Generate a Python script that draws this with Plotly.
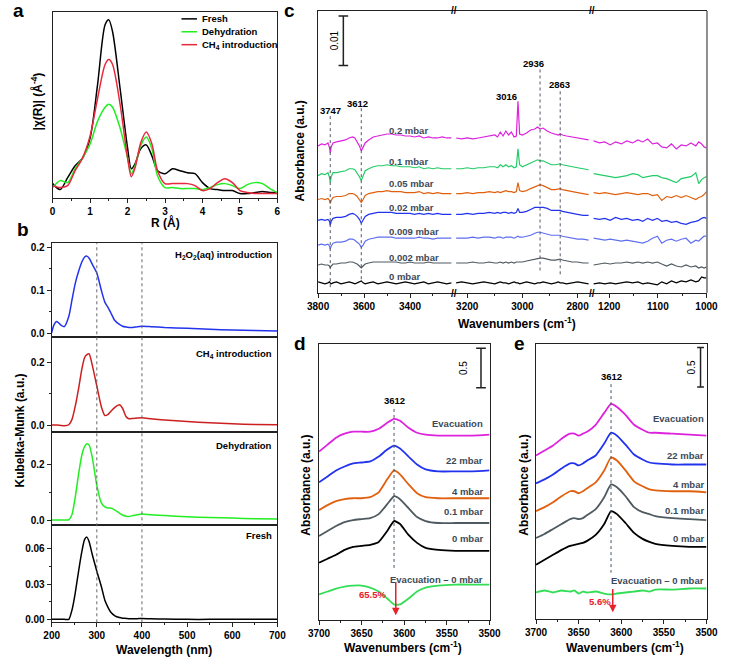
import plotly.graph_objects as go

W, H = 734, 664
def fx(px): return px / W
def fy(py): return 1 - py / H

FONT = "Liberation Sans, Arial, sans-serif"

# ---------------- Panel a : EXAFS ----------------
r_a = [0, 0.2, 0.4, 0.6, 0.8, 1.0, 1.2, 1.4, 1.5, 1.6, 1.8, 2.0, 2.1, 2.2, 2.35, 2.5, 2.65, 2.8, 3.0,
       3.2, 3.4, 3.6, 3.8, 4.0, 4.2, 4.4, 4.6, 4.8, 5.0, 5.2, 5.4, 5.6, 5.8, 6.0]
chi_fresh = [1.12, 0.64, 1.60, 2.56, 3.20, 4.80, 9.12, 13.92, 14.32, 13.36, 8.80, 4.00, 2.32, 2.72, 3.92, 4.24,
             3.36, 2.16, 1.92, 2.32, 2.16, 2.00, 1.92, 1.20, 0.72, 0.64, 0.56, 0.56, 0.32, 0.32, 0.40, 0.48, 0.40, 0.40]
chi_dehyd = [0.80, 1.36, 1.20, 2.32, 3.20, 4.32, 6.16, 7.28, 7.52, 7.28, 5.60, 3.20, 1.92, 2.56, 4.16, 4.88,
             3.92, 1.76, 0.80, 0.80, 0.72, 0.72, 0.72, 0.64, 0.80, 1.04, 1.12, 0.96, 0.72, 1.04, 1.20, 1.12, 0.72, 0.40]
chi_ch4 = [0.96, 0.80, 0.96, 2.16, 3.20, 4.96, 8.00, 10.72, 11.12, 10.72, 7.52, 3.20, 1.68, 2.40, 4.40, 5.28,
           4.32, 2.16, 1.12, 1.12, 1.12, 1.12, 0.96, 0.56, 0.72, 1.20, 1.52, 1.20, 0.56, 0.40, 0.32, 0.32, 0.32, 0.32]
legend_a = ["Fresh", "Dehydration", "CH<sub>4</sub> introduction"]

# ---------------- Panel b : UV-vis ----------------
wl_b = [200, 205, 211, 220, 228, 238, 245, 252, 260, 267, 273, 278, 283, 290, 300, 310, 318, 325, 331, 340,
        350, 357, 365, 371, 380, 390, 400, 420, 450, 500, 550, 600, 650, 700]
km_h2o2 = [0.002, 0.020, 0.028, 0.020, 0.016, 0.040, 0.078, 0.115, 0.145, 0.166, 0.177, 0.179, 0.174, 0.160,
           0.140, 0.100, 0.072, 0.060, 0.048, 0.030, 0.021, 0.017, 0.015, 0.014, 0.014, 0.016, 0.017, 0.016,
           0.014, 0.012, 0.010, 0.008, 0.007, 0.006]
km_ch4 = [0.002, 0.002, 0.002, 0.001, 0.000, 0.003, 0.020, 0.060, 0.120, 0.180, 0.215, 0.224, 0.226, 0.190,
          0.125, 0.060, 0.032, 0.036, 0.045, 0.058, 0.066, 0.055, 0.028, 0.022, 0.023, 0.024, 0.025, 0.022,
          0.018, 0.013, 0.009, 0.006, 0.004, 0.003]
km_dehyd = [0.000, 0.000, 0.000, 0.000, 0.000, 0.001, 0.020, 0.080, 0.170, 0.235, 0.265, 0.275, 0.270, 0.225,
            0.125, 0.062, 0.047, 0.043, 0.043, 0.036, 0.025, 0.018, 0.014, 0.013, 0.016, 0.019, 0.022, 0.019,
            0.016, 0.012, 0.009, 0.007, 0.005, 0.004]
km_fresh = [0.000, 0.000, 0.000, 0.000, 0.000, 0.000, 0.008, 0.022, 0.042, 0.058, 0.068, 0.070, 0.066, 0.055,
            0.041, 0.028, 0.016, 0.010, 0.006, 0.003, 0.0015, 0.001, 0.0008, 0.0006, 0.0005, 0.0006, 0.0007,
            0.0005, 0.0003, 0.0, 0.0, 0.0, 0.0, 0.0]
labels_b = ["H<sub>2</sub>O<sub>2</sub>(aq) introduction", "CH<sub>4</sub> introduction", "Dehydration", "Fresh"]

# ---------------- Panel c : IR, CH4 dosing ----------------
wn_c1 = [3800, 3785, 3770, 3757, 3750, 3747, 3743, 3735, 3720, 3700, 3680, 3665, 3650, 3640, 3630, 3620, 3612,
         3604, 3595, 3580, 3560, 3540, 3520, 3500, 3480, 3460, 3440, 3420, 3400, 3380, 3360, 3340, 3320, 3300,
         3280, 3260, 3240, 3220]
wn_c2 = [3240, 3220, 3200, 3180, 3160, 3140, 3120, 3100, 3090, 3080, 3070, 3060, 3050, 3040, 3030, 3022, 3016,
         3010, 3000, 2985, 2970, 2955, 2945, 2936, 2925, 2910, 2895, 2880, 2870, 2863, 2855, 2840, 2820, 2800,
         2780, 2760]
wn_c3 = [1232, 1220, 1209, 1198, 1187, 1175, 1164, 1152, 1141, 1131, 1121, 1111, 1101, 1092, 1082, 1072, 1062,
         1052, 1042, 1032, 1022, 1016, 1010, 1005, 1000]

c_02_s1 = [0.0276, 0.0280, 0.0278, 0.0282, 0.0272, 0.0262, 0.0274, 0.0282, 0.0284, 0.0286, 0.0288, 0.0292,
           0.0294, 0.0292, 0.0284, 0.0276, 0.0266, 0.0274, 0.0282, 0.0288, 0.0294, 0.0296, 0.0298, 0.0300,
           0.0300, 0.0298, 0.0298, 0.0296, 0.0296, 0.0294, 0.0296, 0.0292, 0.0294, 0.0292, 0.0292, 0.0294,
           0.0292, 0.0292]
c_02_s2 = [0.0292, 0.0290, 0.0292, 0.0290, 0.0292, 0.0294, 0.0296, 0.0298, 0.0294, 0.0304, 0.0296, 0.0306,
           0.0298, 0.0304, 0.0294, 0.0296, 0.0366, 0.0300, 0.0298, 0.0302, 0.0308, 0.0310, 0.0314, 0.0310,
           0.0312, 0.0306, 0.0302, 0.0300, 0.0298, 0.0300, 0.0298, 0.0296, 0.0294, 0.0292, 0.0290, 0.0288]
c_02_s3 = [0.0286, 0.0282, 0.0284, 0.0278, 0.0284, 0.0280, 0.0286, 0.0282, 0.0288, 0.0284, 0.0290, 0.0280,
           0.0282, 0.0274, 0.0272, 0.0280, 0.0270, 0.0278, 0.0276, 0.0282, 0.0276, 0.0284, 0.0280, 0.0274, 0.0272]

c_01_s1 = [0.0216, 0.0220, 0.0218, 0.0222, 0.0212, 0.0202, 0.0214, 0.0222, 0.0222, 0.0224, 0.0226, 0.0230,
           0.0230, 0.0228, 0.0222, 0.0214, 0.0206, 0.0216, 0.0226, 0.0230, 0.0234, 0.0236, 0.0236, 0.0238,
           0.0236, 0.0236, 0.0234, 0.0234, 0.0234, 0.0232, 0.0234, 0.0230, 0.0232, 0.0230, 0.0232, 0.0230,
           0.0230, 0.0230]
c_01_s2 = [0.0230, 0.0230, 0.0232, 0.0230, 0.0232, 0.0232, 0.0234, 0.0234, 0.0232, 0.0238, 0.0234, 0.0238,
           0.0234, 0.0236, 0.0232, 0.0234, 0.0270, 0.0238, 0.0234, 0.0238, 0.0242, 0.0246, 0.0248, 0.0246,
           0.0246, 0.0242, 0.0238, 0.0238, 0.0240, 0.0240, 0.0238, 0.0236, 0.0234, 0.0232, 0.0230, 0.0228]
c_01_s3 = [0.0220, 0.0218, 0.0216, 0.0214, 0.0212, 0.0214, 0.0216, 0.0220, 0.0218, 0.0212, 0.0214, 0.0216,
           0.0216, 0.0212, 0.0210, 0.0206, 0.0202, 0.0210, 0.0212, 0.0214, 0.0222, 0.0200, 0.0208, 0.0212, 0.0214]

c_005_s1 = [0.0168, 0.0170, 0.0168, 0.0170, 0.0166, 0.0160, 0.0166, 0.0172, 0.0174, 0.0174, 0.0176, 0.0180,
            0.0180, 0.0178, 0.0174, 0.0168, 0.0162, 0.0168, 0.0176, 0.0180, 0.0182, 0.0184, 0.0184, 0.0186,
            0.0184, 0.0184, 0.0184, 0.0182, 0.0182, 0.0182, 0.0184, 0.0180, 0.0182, 0.0180, 0.0182, 0.0180,
            0.0180, 0.0180]
c_005_s2 = [0.0180, 0.0180, 0.0182, 0.0180, 0.0182, 0.0182, 0.0184, 0.0182, 0.0184, 0.0182, 0.0184, 0.0186,
            0.0184, 0.0184, 0.0182, 0.0184, 0.0202, 0.0186, 0.0184, 0.0186, 0.0190, 0.0194, 0.0196, 0.0198,
            0.0196, 0.0192, 0.0188, 0.0188, 0.0190, 0.0190, 0.0188, 0.0186, 0.0184, 0.0182, 0.0180, 0.0178]
c_005_s3 = [0.0182, 0.0180, 0.0182, 0.0180, 0.0178, 0.0180, 0.0182, 0.0180, 0.0178, 0.0180, 0.0180, 0.0176,
            0.0178, 0.0166, 0.0174, 0.0172, 0.0176, 0.0172, 0.0176, 0.0172, 0.0168, 0.0172, 0.0174, 0.0178, 0.0184]

c_002_s1 = [0.0126, 0.0128, 0.0126, 0.0128, 0.0124, 0.0116, 0.0124, 0.0130, 0.0132, 0.0132, 0.0134, 0.0138,
            0.0140, 0.0138, 0.0134, 0.0128, 0.0120, 0.0126, 0.0134, 0.0138, 0.0140, 0.0142, 0.0142, 0.0142,
            0.0142, 0.0140, 0.0140, 0.0140, 0.0140, 0.0138, 0.0140, 0.0138, 0.0140, 0.0138, 0.0140, 0.0138,
            0.0138, 0.0138]
c_002_s2 = [0.0138, 0.0138, 0.0140, 0.0138, 0.0140, 0.0140, 0.0142, 0.0140, 0.0142, 0.0140, 0.0142, 0.0142,
            0.0140, 0.0142, 0.0140, 0.0142, 0.0150, 0.0142, 0.0142, 0.0144, 0.0148, 0.0152, 0.0152, 0.0152,
            0.0152, 0.0150, 0.0146, 0.0146, 0.0146, 0.0146, 0.0144, 0.0142, 0.0140, 0.0138, 0.0136, 0.0136]
c_002_s3 = [0.0130, 0.0128, 0.0130, 0.0126, 0.0132, 0.0128, 0.0130, 0.0126, 0.0128, 0.0124, 0.0130, 0.0126,
            0.0130, 0.0124, 0.0126, 0.0122, 0.0124, 0.0120, 0.0118, 0.0122, 0.0124, 0.0126, 0.0130, 0.0132, 0.0130]

c_0009_s1 = [0.0076, 0.0078, 0.0076, 0.0078, 0.0074, 0.0068, 0.0074, 0.0080, 0.0082, 0.0082, 0.0084, 0.0088,
             0.0088, 0.0086, 0.0082, 0.0078, 0.0072, 0.0076, 0.0084, 0.0088, 0.0090, 0.0092, 0.0092, 0.0092,
             0.0092, 0.0090, 0.0090, 0.0090, 0.0090, 0.0090, 0.0092, 0.0090, 0.0090, 0.0088, 0.0090, 0.0090,
             0.0090, 0.0090]
c_0009_s2 = [0.0090, 0.0090, 0.0090, 0.0092, 0.0090, 0.0092, 0.0092, 0.0090, 0.0092, 0.0092, 0.0090, 0.0092,
             0.0092, 0.0092, 0.0090, 0.0092, 0.0094, 0.0092, 0.0092, 0.0094, 0.0096, 0.0100, 0.0102, 0.0102,
             0.0100, 0.0098, 0.0096, 0.0096, 0.0096, 0.0096, 0.0094, 0.0092, 0.0090, 0.0088, 0.0088, 0.0086]
c_0009_s3 = [0.0090, 0.0088, 0.0086, 0.0088, 0.0086, 0.0084, 0.0086, 0.0084, 0.0082, 0.0080, 0.0084, 0.0090,
             0.0094, 0.0080, 0.0086, 0.0088, 0.0084, 0.0088, 0.0090, 0.0080, 0.0086, 0.0084, 0.0090, 0.0094, 0.0094]

c_0002_s1 = [0.0036, 0.0038, 0.0036, 0.0036, 0.0034, 0.0030, 0.0034, 0.0038, 0.0038, 0.0040, 0.0040, 0.0042,
             0.0042, 0.0040, 0.0038, 0.0034, 0.0030, 0.0034, 0.0038, 0.0040, 0.0042, 0.0042, 0.0042, 0.0042,
             0.0042, 0.0042, 0.0040, 0.0040, 0.0042, 0.0040, 0.0040, 0.0040, 0.0042, 0.0040, 0.0040, 0.0040,
             0.0040, 0.0040]
c_0002_s2 = [0.0040, 0.0040, 0.0040, 0.0042, 0.0040, 0.0040, 0.0042, 0.0040, 0.0040, 0.0042, 0.0040, 0.0042,
             0.0040, 0.0042, 0.0040, 0.0042, 0.0042, 0.0042, 0.0042, 0.0044, 0.0046, 0.0048, 0.0050, 0.0050,
             0.0050, 0.0048, 0.0046, 0.0046, 0.0048, 0.0048, 0.0046, 0.0044, 0.0042, 0.0042, 0.0040, 0.0040]
c_0002_s3 = [0.0036, 0.0038, 0.0040, 0.0038, 0.0040, 0.0040, 0.0042, 0.0040, 0.0042, 0.0040, 0.0042, 0.0040,
             0.0042, 0.0038, 0.0034, 0.0038, 0.0034, 0.0032, 0.0036, 0.0032, 0.0034, 0.0030, 0.0032, 0.0030, 0.0032]

c_0_s1 = [0.0002, 0.0000, -0.0002, 0.0000, 0.0002, 0.0000, -0.0002, 0.0000, 0.0002, -0.0002, 0.0000, 0.0002,
          0.0000, -0.0002, 0.0000, 0.0002, 0.0004, 0.0000, -0.0002, 0.0000, 0.0002, -0.0002, 0.0000, 0.0002,
          0.0000, -0.0002, 0.0000, 0.0002, 0.0000, -0.0002, 0.0000, 0.0002, -0.0002, 0.0000, 0.0002, 0.0000,
          -0.0002, 0.0000]
c_0_s2 = [0.0000, 0.0002, 0.0000, -0.0002, 0.0000, 0.0002, 0.0000, -0.0002, 0.0000, 0.0002, 0.0000, 0.0000,
          -0.0002, 0.0000, 0.0002, 0.0000, 0.0000, -0.0002, 0.0000, 0.0002, 0.0000, -0.0002, 0.0000, 0.0000,
          0.0002, 0.0000, -0.0002, 0.0000, 0.0002, 0.0000, 0.0000, -0.0002, 0.0000, 0.0002, 0.0000, -0.0002]
c_0_s3 = [-0.0002, 0.0000, -0.0002, 0.0000, -0.0002, 0.0000, 0.0002, 0.0000, 0.0002, -0.0002, 0.0000, -0.0002,
          -0.0004, 0.0002, -0.0002, 0.0004, 0.0000, 0.0004, 0.0002, 0.0006, 0.0002, 0.0004, 0.0012, 0.0010, 0.0010]

c_names = ["0.2 mbar", "0.1 mbar", "0.05 mbar", "0.02 mbar", "0.009 mbar", "0.002 mbar", "0 mbar"]
c_label_y = [0.0308, 0.0244, 0.0200, 0.0152, 0.0104, 0.0052, 0.0012]

# ---------------- Panel d / e : OH region ----------------
wn_d = [3700, 3690, 3680, 3670, 3660, 3650, 3640, 3630, 3620, 3612, 3605, 3595, 3585, 3575, 3560, 3540, 3520, 3500]
d_evac = [1.838, 1.925, 2.013, 2.063, 2.088, 2.088, 2.088, 2.125, 2.200, 2.250, 2.225, 2.138, 2.075, 2.050, 2.038, 2.038, 2.038, 2.050]
d_22 = [1.450, 1.525, 1.600, 1.650, 1.688, 1.700, 1.713, 1.775, 1.863, 1.913, 1.875, 1.775, 1.675, 1.613, 1.588, 1.588, 1.588, 1.600]
d_4 = [1.100, 1.163, 1.213, 1.238, 1.250, 1.250, 1.263, 1.325, 1.488, 1.600, 1.550, 1.425, 1.313, 1.263, 1.250, 1.250, 1.250, 1.250]
d_01 = [0.775, 0.838, 0.900, 0.950, 0.975, 0.988, 1.000, 1.050, 1.175, 1.275, 1.238, 1.125, 1.013, 0.963, 0.938, 0.938, 0.938, 0.938]
d_0 = [0.438, 0.488, 0.538, 0.600, 0.638, 0.650, 0.663, 0.700, 0.838, 0.963, 0.925, 0.788, 0.688, 0.625, 0.600, 0.588, 0.588, 0.588]
d_diff = [0.038, 0.075, 0.113, 0.138, 0.150, 0.150, 0.125, 0.075, -0.013, -0.088, -0.088, -0.013, 0.075, 0.125, 0.150, 0.163, 0.163, 0.163]
d_label_y = [2.188, 1.725, 1.338, 1.088, 0.738, 0.225]

wn_e = [3700, 3690, 3680, 3670, 3660, 3655, 3650, 3645, 3640, 3630, 3620, 3612, 3605, 3595, 3585, 3575, 3567, 3560, 3540, 3520, 3500]
e_evac = [1.788, 1.850, 1.913, 2.000, 2.063, 2.063, 2.038, 2.063, 2.088, 2.175, 2.325, 2.438, 2.400, 2.300, 2.175, 2.113, 2.075, 2.075, 2.063, 2.050, 2.038]
e_22 = [1.438, 1.488, 1.550, 1.625, 1.688, 1.688, 1.663, 1.688, 1.725, 1.788, 1.938, 2.075, 2.038, 1.925, 1.800, 1.738, 1.700, 1.688, 1.675, 1.675, 1.675]
e_4 = [1.088, 1.138, 1.200, 1.275, 1.338, 1.338, 1.313, 1.338, 1.375, 1.450, 1.600, 1.763, 1.725, 1.600, 1.463, 1.400, 1.363, 1.350, 1.338, 1.338, 1.325]
e_01 = [0.750, 0.800, 0.863, 0.925, 0.988, 1.000, 0.988, 1.000, 1.038, 1.113, 1.263, 1.425, 1.388, 1.275, 1.138, 1.075, 1.050, 1.025, 1.000, 0.988, 0.975]
e_0 = [0.413, 0.475, 0.538, 0.600, 0.650, 0.663, 0.675, 0.688, 0.713, 0.788, 0.925, 1.088, 1.050, 0.938, 0.813, 0.738, 0.700, 0.675, 0.650, 0.638, 0.638]
e_diff = [0.063, 0.088, 0.063, 0.088, 0.075, 0.088, 0.050, 0.075, 0.063, 0.075, 0.050, 0.038, 0.050, 0.063, 0.075, 0.088, 0.075, 0.100, 0.100, 0.113, 0.113]
e_label_y = [2.250, 1.788, 1.425, 1.100, 0.738, 0.213]

de_names = ["Evacuation", "22 mbar", "4 mbar", "0.1 mbar", "0 mbar", "Evacuation \u2013 0 mbar"]

# ---------------- styles ----------------
C_MAG, C_GRN, C_ORG, C_BLU, C_LBL, C_GRY = "#dd22dd", "#22cc66", "#e0600f", "#2233ee", "#5f6ff0", "#4f5a60"
LBL = "#3c4a58"

fig = go.Figure()

def line(x, y, color, xa, ya, width=1.5, shape="spline", smooth=0.6):
    fig.add_trace(go.Scatter(x=x, y=y, mode="lines", xaxis=xa, yaxis=ya, showlegend=False, hoverinfo="skip",
                             line=dict(color=color, width=width, shape=shape, smoothing=smooth)))

# a
line(r_a, chi_fresh, "black", "x", "y", smooth=0.8)
line(r_a, chi_dehyd, "#22ee22", "x", "y", smooth=0.8)
line(r_a, chi_ch4, "#e8283c", "x", "y", smooth=0.8)
# b
line(wl_b, km_h2o2, "#2233ee", "x2", "y2")
line(wl_b, km_ch4, "#cc1f1f", "x3", "y3")
line(wl_b, km_dehyd, "#22ee22", "x4", "y4")
line(wl_b, km_fresh, "black", "x5", "y5")
# c
c_sets = [(c_02_s1, c_02_s2, c_02_s3, C_MAG), (c_01_s1, c_01_s2, c_01_s3, C_GRN),
          (c_005_s1, c_005_s2, c_005_s3, C_ORG), (c_002_s1, c_002_s2, c_002_s3, C_BLU),
          (c_0009_s1, c_0009_s2, c_0009_s3, C_LBL), (c_0002_s1, c_0002_s2, c_0002_s3, C_GRY),
          (c_0_s1, c_0_s2, c_0_s3, "black")]
for s1, s2, s3, col in c_sets:
    line(wn_c1, s1, col, "x6", "y6", 1.2, "linear")
    line(wn_c2, s2, col, "x7", "y6", 1.2, "linear")
    line(wn_c3, s3, col, "x8", "y6", 1.2, "linear")
# d / e
de_colors = [C_MAG, C_BLU, C_ORG, C_GRY, "black", "#33dd55"]
for ys, col in zip([d_evac, d_22, d_4, d_01, d_0, d_diff], de_colors):
    line(wn_d, ys, col, "x9", "y9", 1.8, smooth=0.5)
for ys, col in zip([e_evac, e_22, e_4, e_01, e_0, e_diff], de_colors):
    line(wn_e, ys, col, "x10", "y10", 1.8, smooth=0.5)

# ---------------- axes ----------------
TICKF = dict(family=FONT, size=10, color="black", weight="bold")
def xax(d0, d1, rng, anchor, **kw):
    a = dict(domain=[fx(d0), fx(d1)], range=rng, anchor=anchor, showline=True, linecolor="#222", linewidth=1,
             mirror=True, showgrid=False, zeroline=False, ticks="outside", ticklen=4, tickcolor="#222",
             tickfont=TICKF)
    a.update(kw)
    return a
def yax(t, b, rng, anchor, **kw):
    a = dict(domain=[fy(b), fy(t)], range=rng, anchor=anchor, showline=True, linecolor="#222", linewidth=1,
             mirror=True, showgrid=False, zeroline=False, ticks="", showticklabels=False, tickfont=TICKF)
    a.update(kw)
    return a

lay = {}
lay["xaxis"] = xax(43, 275, [0, 6], "y", tickvals=[0, 1, 2, 3, 4, 5, 6],
                   minor=dict(tickvals=[0.5, 1.5, 2.5, 3.5, 4.5, 5.5], ticklen=2, ticks="outside"))
lay["yaxis"] = yax(10, 197, [0, 14.96], "x")

b_dom = [(243, 338), (338, 433), (433, 527), (527, 625)]
b_rng = [[-0.009, 0.209], [-0.019, 0.278], [-0.018, 0.318], [-0.0025, 0.0803]]
b_tv = [[0, 0.1, 0.2], [0, 0.2], [0, 0.2], [0, 0.03, 0.06]]
b_tt = [["0.0", "0.1", "0.2"], ["0.0", "0.2"], ["0.0", "0.2"], ["0.00", "0.03", "0.06"]]
b_minor = [[0.05, 0.15], [0.1], [0.1], [0.015, 0.045]]
for i in range(4):
    n = i + 2
    last = (i == 3)
    lay[f"xaxis{n}"] = xax(42, 275, [200, 700], f"y{n}",
                           tickvals=[200, 300, 400, 500, 600, 700] if last else [],
                           showticklabels=last, ticks="outside" if last else "",
                           minor=dict(tickvals=[250, 350, 450, 550, 650], ticklen=2,
                                      ticks="outside" if last else ""))
    lay[f"yaxis{n}"] = yax(b_dom[i][0], b_dom[i][1], b_rng[i], f"x{n}", ticks="outside", ticklen=4,
                           tickcolor="#222", showticklabels=True, tickvals=b_tv[i], ticktext=b_tt[i],
                           minor=dict(tickvals=b_minor[i], ticklen=2, ticks="outside"))

lay["xaxis6"] = xax(317, 457, [3800, 3210], "y6", tickvals=[3800, 3600, 3400],
                    minor=dict(tickvals=[3700, 3500, 3300], ticklen=2, ticks="outside"))
lay["xaxis7"] = xax(457, 600, [3249, 2747], "y6", tickvals=[3200, 3000, 2800],
                    minor=dict(tickvals=[3100, 2900], ticklen=2, ticks="outside"))
lay["xaxis8"] = xax(600, 718, [1235, 1000], "y6", tickvals=[1200, 1100, 1000],
                    minor=dict(tickvals=[1150, 1050], ticklen=2, ticks="outside"))
lay["yaxis6"] = yax(9, 293, [-0.002, 0.0548], "x6", mirror=False)

lay["xaxis9"] = xax(318, 494, [3700, 3500], "y9", tickvals=[3700, 3650, 3600, 3550, 3500],
                    minor=dict(tickvals=[3675, 3625, 3575, 3525], ticklen=2, ticks="outside"))
lay["yaxis9"] = yax(345, 623, [-0.2875, 3.1875], "x9")
lay["xaxis10"] = xax(542, 718, [3700, 3500], "y10", tickvals=[3700, 3650, 3600, 3550, 3500],
                     minor=dict(tickvals=[3675, 3625, 3575, 3525], ticklen=2, ticks="outside"))
lay["yaxis10"] = yax(345, 622, [-0.275, 3.1875], "x10")

# ---------------- annotations & shapes ----------------
ann = []
shapes = []
def txt(text, x, y, xref="paper", yref="paper", size=10, bold=True, color="black", xa="center", ya="middle",
        angle=0):
    if xref == "paper":
        x = fx(x)
    if yref == "paper":
        y = fy(y)
    ann.append(dict(text=f"<b>{text}</b>" if bold else text, x=x, y=y, xref=xref, yref=yref, showarrow=False,
                    xanchor=xa, yanchor=ya, textangle=angle,
                    font=dict(family=FONT, size=size, color=color)))
def seg(x0, y0, x1, y1, xref, yref, color="#222", width=1, dash="solid"):
    if xref == "paper":
        x0, x1 = fx(x0), fx(x1)
    if yref == "paper":
        y0, y1 = fy(y0), fy(y1)
    shapes.append(dict(type="line", x0=x0, y0=y0, x1=x1, y1=y1, xref=xref, yref=yref,
                       line=dict(color=color, width=width, dash=dash)))

# panel letters
for L, px, py in [("a", 8, 9), ("b", 12, 229), ("c", 288, 9), ("d", 298, 344), ("e", 525, 344)]:
    txt(L, px, py, size=19)

# panel a titles + legend
txt("|\u03c7(R)| (\u00c5<sup>-4</sup>)", 27, 100, size=12, angle=-90)
txt("R (\u00c5)", 160, 222, size=12)
for lab, col, py in zip(legend_a, ["black", "#22ee22", "#e8283c"], [17, 30, 43]):
    seg(176, py, 192, py, "paper", "paper", color=col, width=1.5)
    txt(lab, 195, py, size=9.5, xa="left")

# panel b
txt("Kubelka-Munk (a.u.)", 9, 432, size=12, angle=-90)
txt("Wavelength (nm)", 158, 653, size=12)
for lab, py in zip(labels_b, [255, 355, 447, 538]):
    txt(lab, 272, py, size=9.5, xa="right")
for wl in [300, 400]:
    shapes.append(dict(type="line", x0=wl, x1=wl, y0=fy(625), y1=fy(243), xref="x2", yref="paper",
                       line=dict(color="#666", width=1, dash="dot")))

# panel c
txt("Absorbance (a.u.)", 298, 150, size=12, angle=-90)
txt("Wavenumbers (cm<sup>-1</sup>)", 522, 323, size=12)
seg(718.5, 9, 718.5, 293, "paper", "paper", color="#222", width=1)
for px in [457, 600]:
    for py in [9, 294]:
        txt("//", px, py, size=10)
for name, yv in zip(c_names, c_label_y):
    txt(name, 3500, yv, "x6", "y6", size=9.5, color=LBL, xa="left")
seg(3747, 0.0336, 3747, -0.001, "x6", "y6", color="#556", width=1, dash="dot")
seg(3612, 0.0352, 3612, 0.0006, "x6", "y6", color="#556", width=1, dash="dot")
seg(2936, 0.0430, 2936, 0.0020, "x7", "y6", color="#556", width=1, dash="dot")
seg(2863, 0.0386, 2863, 0.0012, "x7", "y6", color="#556", width=1, dash="dot")
txt("3747", 3747, 0.0348, "x6", "y6", size=9.5)
txt("3612", 3627, 0.0362, "x6", "y6", size=9.5)
txt("3016", 3056, 0.0376, "x7", "y6", size=9.5)
txt("2936", 2961, 0.0442, "x7", "y6", size=9.5)
txt("2863", 2867, 0.0400, "x7", "y6", size=9.5)
# scale bar 0.01
seg(3690, 0.0438, 3690, 0.0538, "x6", "y6", color="#222", width=1.5)
seg(3711, 0.0538, 3669, 0.0538, "x6", "y6", color="#222", width=1.5)
seg(3711, 0.0438, 3669, 0.0438, "x6", "y6", color="#222", width=1.5)
txt("0.01", 3728, 0.0488, "x6", "y6", size=10, bold=False, angle=-90)

# panels d / e
for xr, yr, wn_lab, lab_y, tops, pct, pct_x, pct_y, arr, bar_x, bar_t, bar_txt_x, bar_cap, xt_px, yt_px, lab_612 in [
        ("x9", "y9", 3505, d_label_y, (2.375, 0.3625), "65.5%", 3637.5, 0.0375, (0.2125, -0.225),
         3510, 3.14, 3531, 5.7, 405, 305, 2.475),
        ("x10", "y10", 3501, e_label_y, (2.6875, 0.3125), "5.6%", 3625, -0.05, (0.125, -0.1875),
         3507, 3.15, 3518, 4.0, 634, 530, 2.7875)]:
    txt("Absorbance (a.u.)", yt_px, 487, size=12, angle=-90)
    txt("Wavenumbers (cm<sup>-1</sup>)", xt_px, 650, size=12)
    for name, yv in zip(de_names, lab_y):
        txt(name, wn_lab, yv, xr, yr, size=9.5, color=LBL, xa="right")
    seg(3612, tops[0], 3612, tops[1], xr, yr, color="#445566", width=1, dash="dot")
    txt("3612", 3612, lab_612, xr, yr, size=9.5)
    txt(pct, pct_x, pct_y, xr, yr, size=9.5, color="#e8202a")
    ann.append(dict(x=3610, y=arr[1], ax=3610, ay=arr[0], xref=xr, yref=yr, axref=xr, ayref=yr, text="",
                    showarrow=True, arrowhead=2, arrowsize=1, arrowwidth=1.5, arrowcolor="#e8202a"))
    seg(bar_x, bar_t, bar_x, bar_t - 0.5, xr, yr, color="#222", width=1.5)
    seg(bar_x + bar_cap, bar_t, bar_x - bar_cap, bar_t, xr, yr, color="#222", width=1.5)
    seg(bar_x + bar_cap, bar_t - 0.5, bar_x - bar_cap, bar_t - 0.5, xr, yr, color="#222", width=1.5)
    txt("0.5", bar_txt_x, bar_t - 0.25, xr, yr, size=10, bold=False, angle=-90)

fig.update_layout(width=W, height=H, margin=dict(l=0, r=0, t=0, b=0), paper_bgcolor="white",
                  plot_bgcolor="white", showlegend=False, annotations=ann, shapes=shapes,
                  font=dict(family=FONT), **lay)
fig.write_html("out.html", config={"displayModeBar": False},
               post_script="document.body.style.margin='0';document.body.style.overflow='hidden';")
